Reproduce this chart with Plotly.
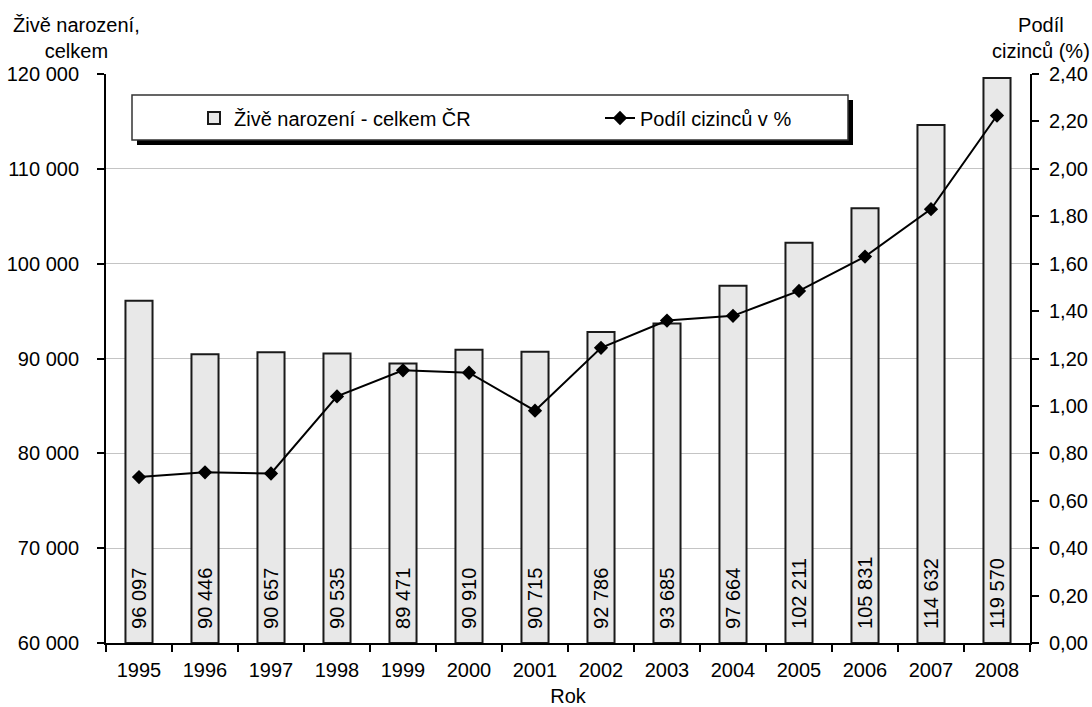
import plotly.graph_objects as go

years = ["1995", "1996", "1997", "1998", "1999", "2000", "2001",
         "2002", "2003", "2004", "2005", "2006", "2007", "2008"]
births = [96097, 90446, 90657, 90535, 89471, 90910, 90715,
          92786, 93685, 97664, 102211, 105831, 114632, 119570]
foreign_share = [0.70, 0.72, 0.715, 1.04, 1.15, 1.14, 0.98,
                 1.245, 1.36, 1.38, 1.485, 1.63, 1.83, 2.225]

Y_MIN = 60000
FONT = "Liberation Sans, Arial, sans-serif"

W, H = 1092, 707
ML, MR, MT, MB = 106, 62, 74, 64
PW, PH = W - ML - MR, H - MT - MB


def px_x(x):
    return (x - ML) / PW


def px_y(y):
    return (H - MB - y) / PH


fig = go.Figure()

fig.add_trace(go.Bar(
    x=years,
    y=[v - Y_MIN for v in births],
    base=Y_MIN,
    customdata=births,
    texttemplate="\u00a0\u00a0%{customdata:,.0f}",
    textposition="inside",
    insidetextanchor="start",
    textangle=-90,
    constraintext="none",
    textfont=dict(family=FONT, size=20, color="black"),
    marker=dict(color="#e8e8e8", line=dict(color="#1a1a1a", width=2)),
    width=0.41,
    name="Živě narození - celkem ČR",
    yaxis="y",
))

fig.add_trace(go.Scatter(
    x=years,
    y=foreign_share,
    mode="lines+markers",
    line=dict(color="black", width=2),
    marker=dict(symbol="diamond", size=11, color="black"),
    name="Podíl cizinců v %",
    yaxis="y2",
))

# legend frame with shadow
fig.add_shape(type="rect", xref="paper", yref="paper",
              x0=px_x(137), x1=px_x(853), y0=px_y(145), y1=px_y(100),
              fillcolor="black", line=dict(width=0), layer="above")
fig.add_shape(type="rect", xref="paper", yref="paper",
              x0=px_x(132), x1=px_x(848), y0=px_y(140), y1=px_y(95),
              fillcolor="white", line=dict(color="#333333", width=1.5), layer="above")

fig.add_annotation(text="Živě narození,<br>celkem", xref="paper", yref="paper",
                   x=px_x(76), y=px_y(38), xanchor="center", yanchor="middle",
                   showarrow=False, align="center",
                   font=dict(family=FONT, size=20, color="black"))
fig.add_annotation(text="Podíl<br>cizinců (%)", xref="paper", yref="paper",
                   x=px_x(1041), y=px_y(38), xanchor="center", yanchor="middle",
                   showarrow=False, align="center",
                   font=dict(family=FONT, size=20, color="black"))

fig.update_layout(
    width=W, height=H,
    margin=dict(l=ML, r=MR, t=MT, b=MB),
    paper_bgcolor="white", plot_bgcolor="white",
    separators=", ",
    font=dict(family=FONT, size=20, color="black"),
    showlegend=True,
    legend=dict(orientation="h", x=px_x(194), y=px_y(118),
                xanchor="left", yanchor="middle",
                bgcolor="rgba(0,0,0,0)", borderwidth=0,
                entrywidth=361, itemwidth=30,
                font=dict(family=FONT, size=20, color="black")),
    bargap=0.59,
    xaxis=dict(
        type="category",
        range=[-0.5, len(years) - 0.5],
        tickson="boundaries",
        ticks="outside", ticklen=7, tickwidth=1.5, tickcolor="black",
        showline=True, linecolor="black", linewidth=2,
        showgrid=False,
        ticklabelstandoff=8,
        automargin=False,
        title=dict(text="Rok", standoff=10, font=dict(family=FONT, size=20)),
    ),
    yaxis=dict(
        range=[60000, 120000],
        dtick=10000,
        tickformat=",.0f",
        ticks="outside", ticklen=7, tickwidth=1.5, tickcolor="black",
        showline=True, linecolor="black", linewidth=2,
        showgrid=True, gridcolor="#c4c4c4", gridwidth=1,
        zeroline=False,
        ticklabelstandoff=14,
        automargin=False,
    ),
    yaxis2=dict(
        overlaying="y", side="right",
        range=[0, 2.4],
        dtick=0.2,
        tickformat=".2f",
        ticks="outside", ticklen=7, tickwidth=1.5, tickcolor="black",
        showline=True, linecolor="black", linewidth=2,
        showgrid=False, zeroline=False,
        ticklabelstandoff=6,
        automargin=False,
    ),
)

fig.write_html("out.html")
